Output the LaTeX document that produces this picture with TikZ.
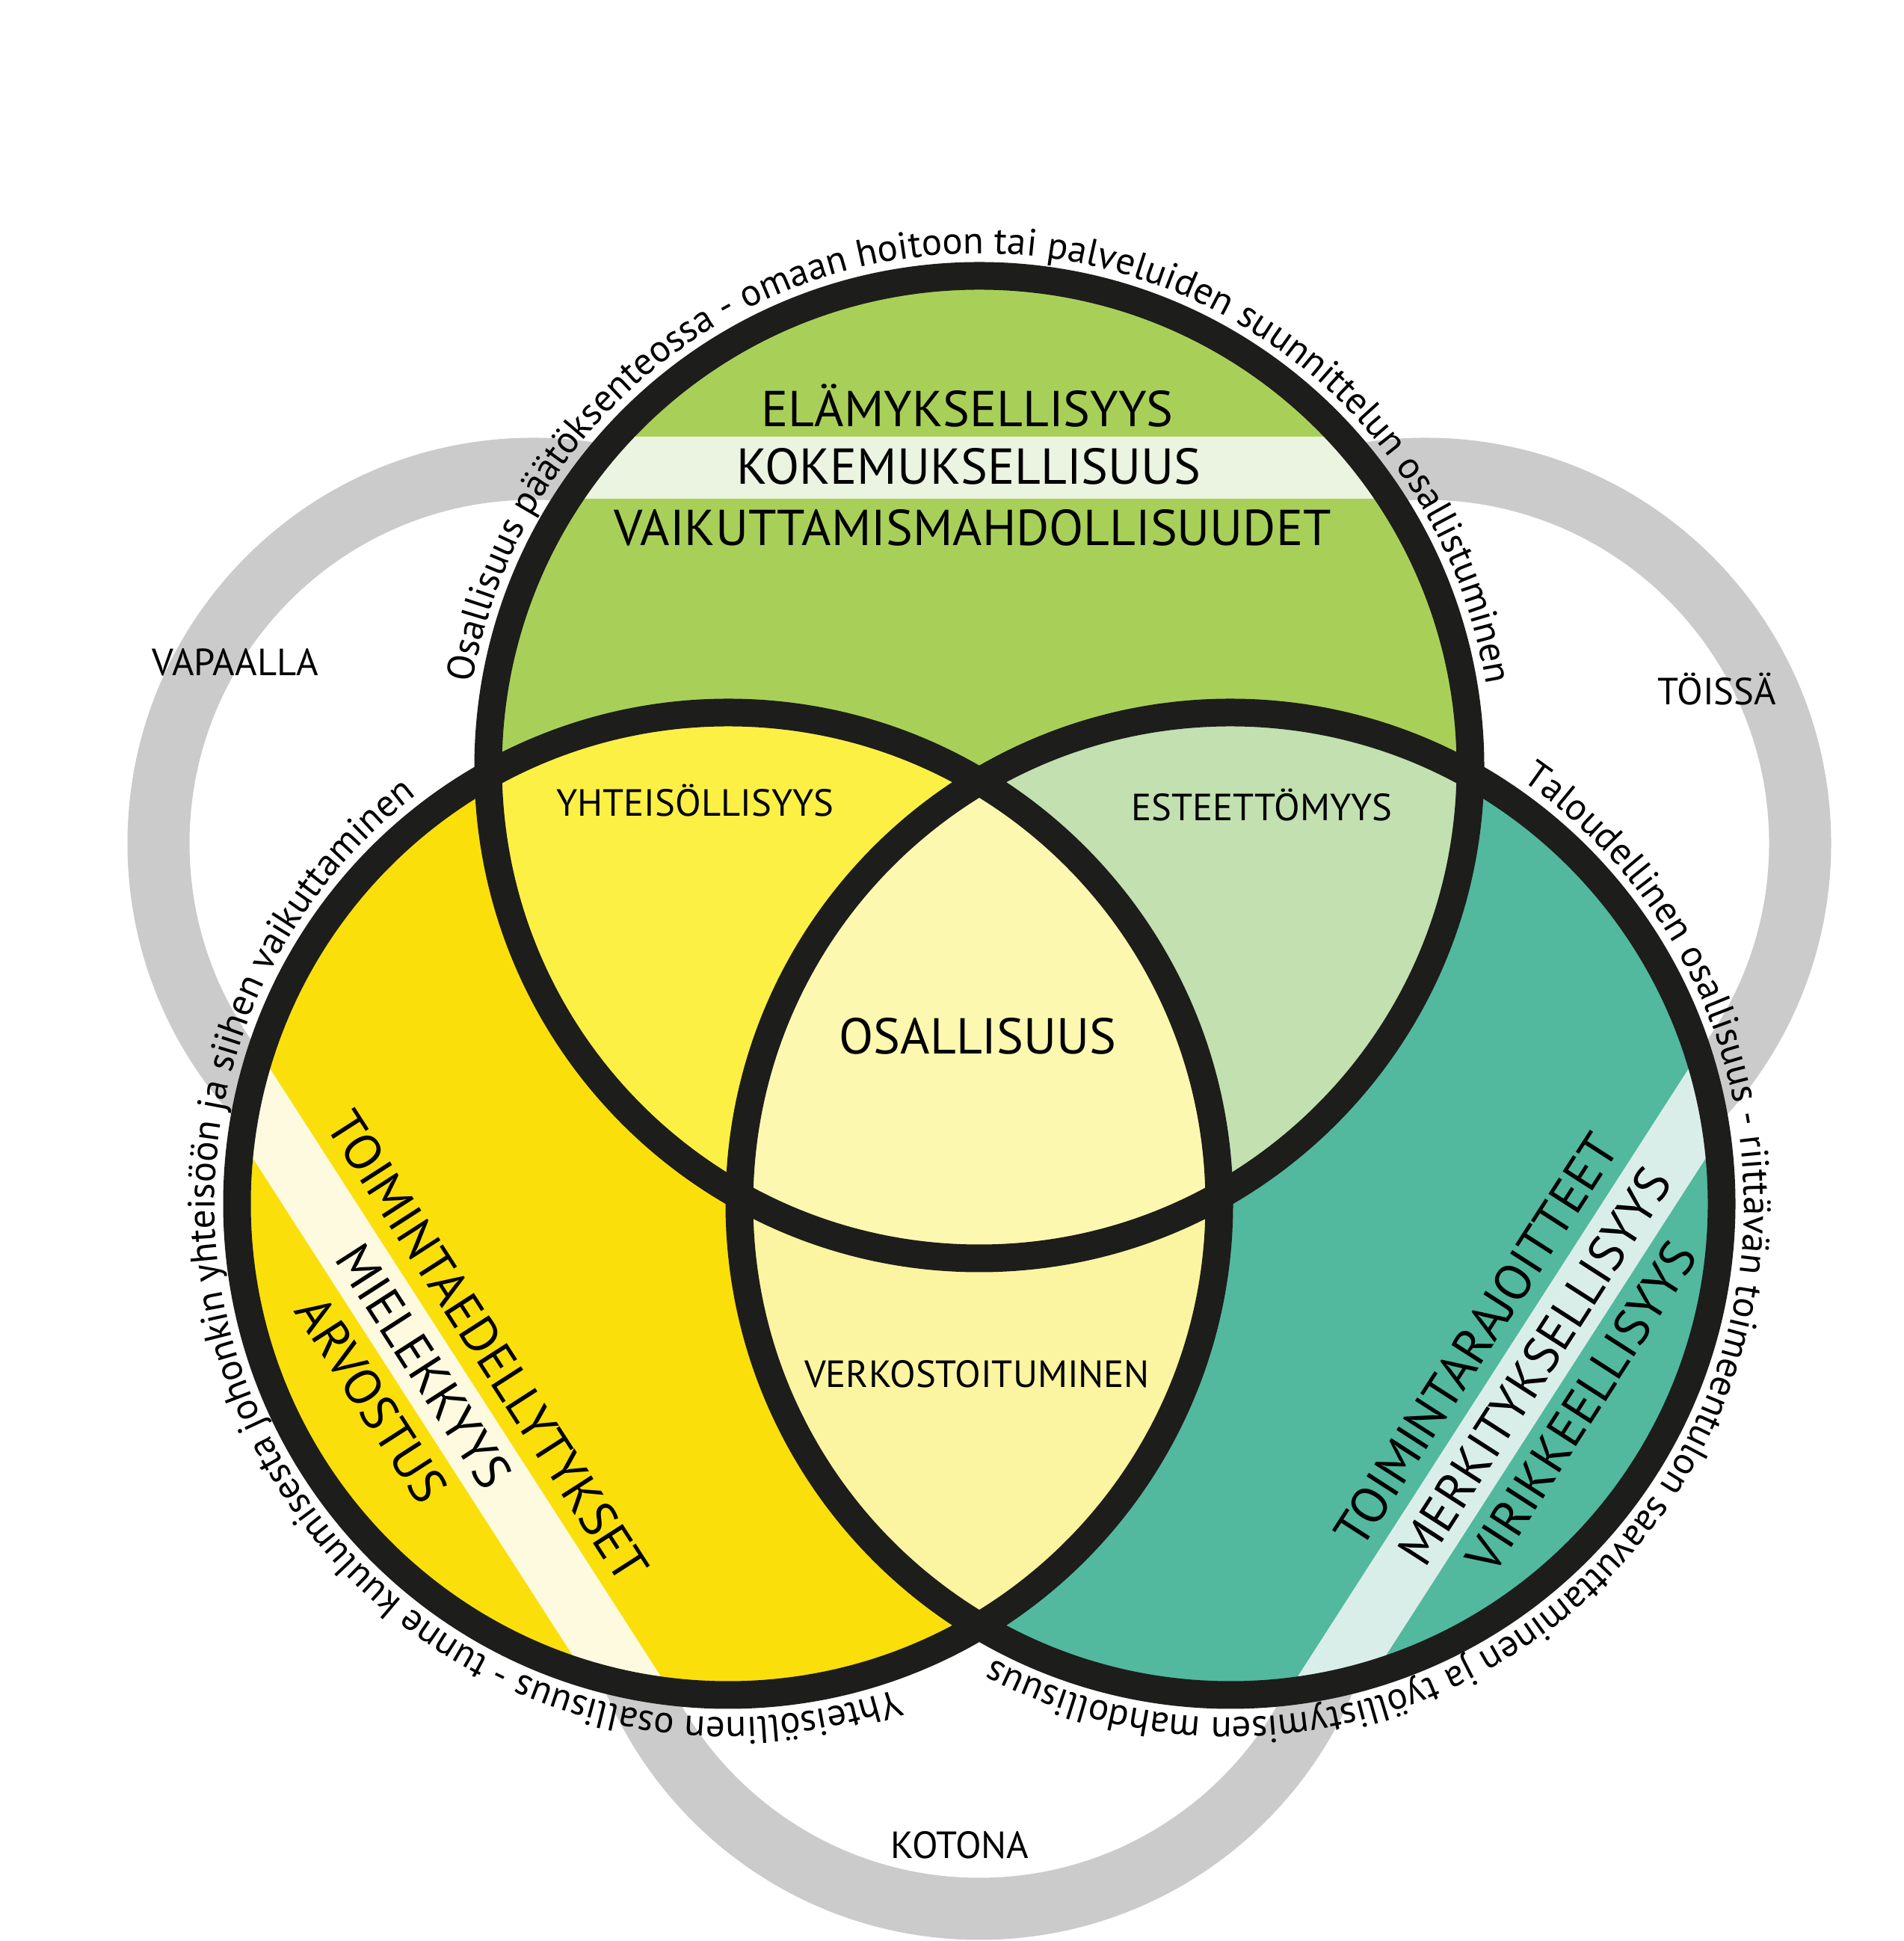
\documentclass[tikz,border=0pt]{standalone}
\usepackage{fontspec}
\setmainfont{PT Sans}
\usepackage{xcolor}
\usetikzlibrary{calc,decorations.text}

\definecolor{ringgrey}{HTML}{CBCBCB}
\definecolor{rimblack}{HTML}{1D1D1B}
\definecolor{topgreen}{HTML}{A8D059}
\definecolor{topband}{HTML}{EAF4E0}
\definecolor{leftyellow}{HTML}{FADF0B}
\definecolor{leftband}{HTML}{FEFAE0}
\definecolor{rightteal}{HTML}{52B89E}
\definecolor{rightband}{HTML}{DAEEE9}
\definecolor{capTL}{HTML}{FCF045}
\definecolor{capTR}{HTML}{C2E0B0}
\definecolor{capLR}{HTML}{FBF4A0}
\definecolor{capC}{HTML}{FDF8B0}

\newcommand{\curvefont}{\fontsize{14.5}{17}\selectfont}

\begin{document}
\begin{tikzpicture}[font=\fontsize{14.4}{17}\selectfont,
  ring/.style={draw=ringgrey, line width=8.3mm},
  rim/.style={draw=rimblack, line width=3.7mm},
  big/.style={font=\fontsize{19.2}{23}\selectfont, inner sep=0pt},
  lab/.style={font=\fontsize{14.4}{17}\selectfont, inner sep=0pt},
  curved/.style={decorate, decoration={text along path, text align=center,
                 text={|\curvefont|#1}}}]
\useasboundingbox (0,0) rectangle (25.47,25.96);
\fill[white] (0,0) rectangle (25.47,25.96);
% --- centres ---
\coordinate (T) at (13.10,15.70);
\coordinate (L) at (9.74,9.86);
\coordinate (R) at (16.46,9.86);
\coordinate (free) at (7.13,14.68);
\coordinate (work) at (19.07,14.68);
\coordinate (home) at (13.10,5.44);
% --- grey rings behind ---
\draw[ring] (free) circle[radius=5.01];
\draw[ring] (work) circle[radius=5.01];
\draw[ring] (home) circle[radius=5.01];
% --- the three circles ---
\fill[topgreen] (T) circle[radius=6.57];
\fill[leftyellow] (L) circle[radius=6.57];
\fill[rightteal] (R) circle[radius=6.57];
% --- light bands ---
\begin{scope}
  \clip (T) circle[radius=6.57];
  \fill[topband] (6,19.29) rectangle (20,20.12);
\end{scope}
\begin{scope}
  \clip (L) circle[radius=6.57];
  \begin{scope}[shift={(5.67,7.69)}, rotate=-57.25]
    \fill[leftband] (-12,-0.42) rectangle (12,0.42);
  \end{scope}
\end{scope}
\begin{scope}
  \clip (R) circle[radius=6.57];
  \begin{scope}[shift={(20.53,7.69)}, rotate=57.25]
    \fill[rightband] (-12,-0.42) rectangle (12,0.42);
  \end{scope}
\end{scope}
% --- overlaps ---
\begin{scope}
  \clip (L) circle[radius=6.57];
  \fill[capLR] (R) circle[radius=6.57];
\end{scope}
\begin{scope}
  \clip (T) circle[radius=6.57];
  \fill[capTL] (L) circle[radius=6.57];
  \fill[capTR] (R) circle[radius=6.57];
  \clip (L) circle[radius=6.57];
  \fill[capC] (R) circle[radius=6.57];
\end{scope}
% --- black rims ---
\draw[rim] (T) circle[radius=6.57];
\draw[rim] (L) circle[radius=6.57];
\draw[rim] (R) circle[radius=6.57];
% --- top circle words ---
\node[big, anchor=base] (elam) at (12.94,20.25) {ELÄMYKSELLISYYS};
\node[big, anchor=base] (kokem) at (12.96,19.48) {KOKEMUKSELLISUUS};
\node[big, anchor=base] (vaik) at (13.01,18.66) {VAIKUTTAMISMAHDOLLISUUDET};
% --- overlap words ---
\node[lab, anchor=base] (yht) at (9.30,15.04) {YHTEISÖLLISYYS};
\node[lab, anchor=base] (este) at (16.88,14.98) {ESTEETTÖMYYS};
\node[big, anchor=base] (osal) at (13.08,11.86) {OSALLISUUS};
\node[lab, anchor=base] (verk) at (13.07,7.40) {VERKOSTOITUMINEN};
% --- ring words ---
\node[lab, anchor=base] (vapaa) at (3.15,16.92) {VAPAALLA};
\node[lab, anchor=base] (toissa) at (22.97,16.53) {TÖISSÄ};
\node[lab, anchor=base] (kotona) at (12.84,1.10) {KOTONA};
% --- slanted words, left ---
\begin{scope}[shift={(5.67,7.69)}, rotate=-57.25, transform shape]
  \node[big] (toimL) at (0.24,0.86) {TOIMINTAEDELLYTYKSET};
  \node[big] (miel) at (0,0) {MIELEKKYYS};
  \node[big] (arvo) at (0,-0.83) {ARVOSTUS};
\end{scope}
% --- slanted words, right ---
\begin{scope}[shift={(20.53,7.69)}, rotate=57.25, transform shape]
  \node[big] (toimR) at (-0.13,0.85) {TOIMINTARAJOITTEET};
  \node[big] (merk) at (0,0) {MERKITYKSELLISYYS};
  \node[big] (virik) at (-0.12,-0.82) {VIRIKKEELLISYYS};
\end{scope}
% --- texts round the circles ---
\path[curved={Osallisuus päätöksenteossa - omaan hoitoon tai palveluiden suunnittelun osallistuminen}]
  ($(T)+(180.5:6.87)$) arc[start angle=180.5, end angle=-0.7, radius=6.87];
\path[curved={Yhteisöllinen osallisuus - tunne kuulumisesta johonkin yhteisöön ja siihen vaikuttaminen}]
  ($(L)+(-61.5:6.87)$) arc[start angle=-61.5, end angle=-242, radius=6.87];
\path[curved={Taloudellinen osallisuus - riittävän toimeentulon saavuttaminen ja työllistymisen mahdollisuus}]
  ($(R)+(64.3:6.87)$) arc[start angle=64.3, end angle=-126.3, radius=6.87];
\end{tikzpicture}
\end{document}
